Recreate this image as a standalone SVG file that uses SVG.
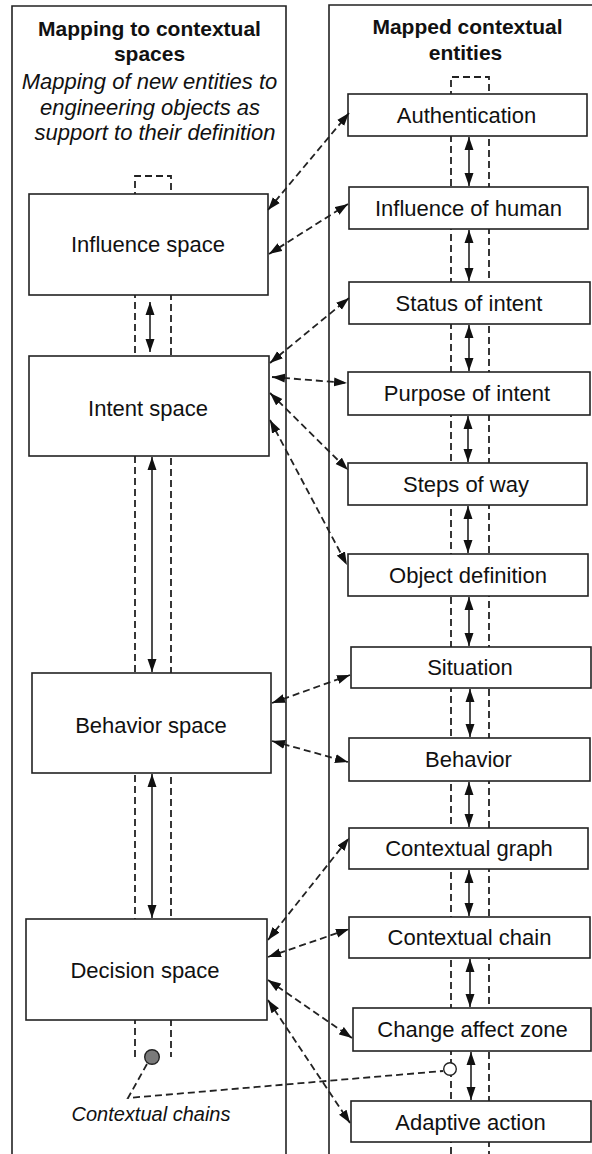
<svg xmlns="http://www.w3.org/2000/svg" width="592" height="1154" viewBox="0 0 592 1154">
<style>
.panel{fill:none;stroke:#222;stroke-width:1.6}
.box{fill:#fff;stroke:#222;stroke-width:1.6}
.lbl{font-family:"Liberation Sans",Arial,sans-serif;font-size:22px;fill:#111;text-anchor:middle}
.ttl{font-family:"Liberation Sans",Arial,sans-serif;font-size:21px;font-weight:bold;fill:#111;text-anchor:middle}
.it{font-family:"Liberation Sans",Arial,sans-serif;font-size:22px;font-style:italic;fill:#111;text-anchor:middle}
.cap{font-family:"Liberation Sans",Arial,sans-serif;font-size:20px;font-style:italic;fill:#111;text-anchor:middle}
.dash{fill:none;stroke:#222;stroke-width:1.8;stroke-dasharray:7 4}
.conn{fill:none;stroke:#222;stroke-width:1.8;stroke-dasharray:7 4;marker-start:url(#ah);marker-end:url(#ah)}
.arr{fill:none;stroke:#222;stroke-width:1.6;marker-start:url(#ah);marker-end:url(#ah)}
</style>
<defs>
<marker id="ah" markerUnits="userSpaceOnUse" markerWidth="13" markerHeight="10" refX="13" refY="5" orient="auto-start-reverse">
<path d="M0,0.5 L13,5 L0,9.5 z" fill="#111"/>
</marker>
</defs>
<rect width="592" height="1154" fill="#fff"/>

<g id="panels">
<path class="panel" d="M12,1154 V6 H286 V1154"/>
<path class="panel" d="M329,1154 V5 H592"/>
<text class="ttl" x="149.5" y="36">Mapping to contextual</text>
<text class="ttl" x="149.5" y="61">spaces</text>
<text class="it" x="149.5" y="89">Mapping of new entities to</text>
<text class="it" x="150" y="115">engineering objects as</text>
<text class="it" x="155" y="140">support to their definition</text>
<text class="ttl" x="467.5" y="34">Mapped contextual</text>
<text class="ttl" x="465.5" y="60">entities</text>
</g>

<g id="channels">
<path class="dash" d="M135,1057 V176 H171 V1057"/>
<path class="dash" d="M451,1154 V77 H489 V1154"/>
</g>

<g id="left-nodes">
<g id="influence-space"><rect class="box" x="29" y="194" width="239" height="101"/><text class="lbl" x="148" y="252">Influence space</text></g>
<g id="intent-space"><rect class="box" x="29" y="356" width="240" height="100"/><text class="lbl" x="148" y="416">Intent space</text></g>
<g id="behavior-space"><rect class="box" x="32" y="673" width="239" height="100"/><text class="lbl" x="151" y="733">Behavior space</text></g>
<g id="decision-space"><rect class="box" x="26" y="919" width="241" height="101"/><text class="lbl" x="145" y="978">Decision space</text></g>
</g>

<g id="right-nodes">
<g id="authentication"><rect class="box" x="348" y="94" width="239" height="42"/><text class="lbl" x="466.5" y="123">Authentication</text></g>
<g id="influence-of-human"><rect class="box" x="349" y="187" width="239" height="42"/><text class="lbl" x="468.5" y="216">Influence of human</text></g>
<g id="status-of-intent"><rect class="box" x="349" y="282" width="241" height="42"/><text class="lbl" x="469" y="311">Status of intent</text></g>
<g id="purpose-of-intent"><rect class="box" x="348" y="372" width="242" height="43"/><text class="lbl" x="467" y="401">Purpose of intent</text></g>
<g id="steps-of-way"><rect class="box" x="348" y="463" width="239" height="42"/><text class="lbl" x="466" y="492">Steps of way</text></g>
<g id="object-definition"><rect class="box" x="348" y="554" width="240" height="42"/><text class="lbl" x="468" y="583">Object definition</text></g>
<g id="situation"><rect class="box" x="351" y="647" width="240" height="41"/><text class="lbl" x="470" y="675">Situation</text></g>
<g id="behavior"><rect class="box" x="349" y="738" width="241" height="43"/><text class="lbl" x="468.5" y="767">Behavior</text></g>
<g id="contextual-graph"><rect class="box" x="349" y="828" width="239" height="41"/><text class="lbl" x="469" y="856">Contextual graph</text></g>
<g id="contextual-chain"><rect class="box" x="349" y="917" width="241" height="41"/><text class="lbl" x="469.5" y="945">Contextual chain</text></g>
<g id="change-affect-zone"><rect class="box" x="353" y="1008" width="238" height="43"/><text class="lbl" x="472.5" y="1037">Change affect zone</text></g>
<g id="adaptive-action"><rect class="box" x="351" y="1101" width="240" height="41"/><text class="lbl" x="470.5" y="1130">Adaptive action</text></g>
</g>

<g id="connectors">
<line class="arr" x1="150" y1="302" x2="150" y2="352"/>
<line class="arr" x1="152" y1="457" x2="152" y2="672"/>
<line class="arr" x1="152" y1="774" x2="152" y2="918"/>

<line class="arr" x1="469" y1="137" x2="469" y2="186"/>
<line class="arr" x1="469" y1="230" x2="469" y2="281"/>
<line class="arr" x1="469" y1="325" x2="469" y2="371"/>
<line class="arr" x1="468" y1="416" x2="468" y2="462"/>
<line class="arr" x1="468" y1="506" x2="468" y2="553"/>
<line class="arr" x1="469" y1="597" x2="469" y2="646"/>
<line class="arr" x1="470" y1="689" x2="470" y2="737"/>
<line class="arr" x1="469" y1="782" x2="469" y2="827"/>
<line class="arr" x1="469" y1="870" x2="469" y2="916"/>
<line class="arr" x1="470" y1="959" x2="470" y2="1007"/>
<line class="arr" x1="471" y1="1052" x2="471" y2="1100"/>

<line class="conn" x1="268" y1="210" x2="349" y2="113"/>
<line class="conn" x1="269" y1="254" x2="348" y2="204"/>
<line class="conn" x1="270" y1="363" x2="349" y2="298"/>
<line class="conn" x1="272" y1="377" x2="347" y2="383"/>
<line class="conn" x1="270" y1="393" x2="348" y2="470"/>
<line class="conn" x1="270" y1="420" x2="347" y2="565"/>
<line class="conn" x1="272" y1="703" x2="350" y2="675"/>
<line class="conn" x1="272" y1="741" x2="348" y2="762"/>
<line class="conn" x1="268" y1="940" x2="349" y2="838"/>
<line class="conn" x1="268" y1="957" x2="349" y2="929"/>
<line class="conn" x1="268" y1="980" x2="352" y2="1038"/>
<line class="conn" x1="268" y1="1000" x2="350" y2="1123"/>

<path class="dash" d="M147,1064 L128,1098 L443,1071"/>
<circle cx="152" cy="1057" r="7.3" fill="#7a7a7a" stroke="#222" stroke-width="1.4"/>
<circle cx="450" cy="1069" r="6.3" fill="#fff" stroke="#222" stroke-width="1.4"/>
<text class="cap" x="151" y="1121">Contextual chains</text>
</g>
</svg>
